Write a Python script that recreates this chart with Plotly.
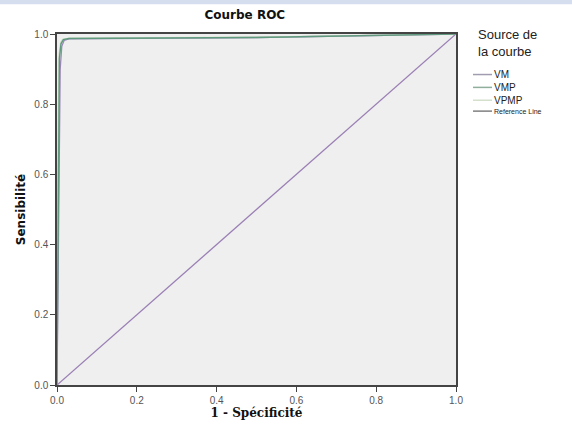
import plotly.graph_objects as go

# ROC coordinates (1 - specificity, sensitivity) per test variable
fpr_vm = [0.0, 0.004, 0.008, 0.012, 0.018, 0.03, 0.5, 1.0]
tpr_vm = [0.0, 0.55, 0.90, 0.965, 0.982, 0.986, 0.99, 1.0]
fpr_vmp = [0.0, 0.003, 0.006, 0.010, 0.016, 0.03, 0.5, 1.0]
tpr_vmp = [0.0, 0.60, 0.93, 0.972, 0.984, 0.987, 0.99, 1.0]
fpr_vpmp = [0.0, 0.002, 0.005, 0.009, 0.014, 0.03, 0.5, 1.0]
tpr_vpmp = [0.0, 0.62, 0.94, 0.975, 0.985, 0.988, 0.991, 1.0]
ref_x = [0.0, 1.0]
ref_y = [0.0, 1.0]

series = [
    ("VM", fpr_vm, tpr_vm, "#9c86b8", 1.3),
    ("VMP", fpr_vmp, tpr_vmp, "#5f9a7e", 1.4),
    ("VPMP", fpr_vpmp, tpr_vpmp, "#c9dcc0", 1.2),
    ("Reference Line", ref_x, ref_y, "#9a7fb4", 1.3),
]

fig = go.Figure()
for name, xs, ys, col, w in [series[3], series[0], series[2], series[1]]:
    fig.add_trace(go.Scatter(x=xs, y=ys, mode="lines", name=name,
                             line=dict(color=col, width=w), showlegend=False))

tick_font = dict(family="Liberation Sans", size=10, color="#555555")
axis_common = dict(range=[0, 1], dtick=0.2, tickformat=".1f", showgrid=False,
                   zeroline=False, showline=True, linecolor="#444444", linewidth=1.5,
                   mirror=True, ticks="outside", ticklen=5, tickcolor="#444444",
                   tickfont=tick_font)

fig.update_layout(
    width=572, height=430,
    margin=dict(l=57, r=116, t=34, b=41),
    paper_bgcolor="white", plot_bgcolor="#efefef",
    title=dict(text="<b>Courbe ROC</b>", x=0.428, xanchor="center", y=0.975, yanchor="top",
               font=dict(family="DejaVu Sans", size=12, color="#111111")),
    xaxis=dict(**axis_common,
               title=dict(text="<b>1 - Spécificité</b>", standoff=4,
                          font=dict(family="DejaVu Serif", size=12, color="#111111"))),
    yaxis=dict(**axis_common,
               title=dict(text="<b>Sensibilité</b>", standoff=6,
                          font=dict(family="DejaVu Sans", size=12, color="#111111"))),
)

# top banner strip
fig.add_shape(type="rect", xref="paper", yref="paper", x0=-0.2, x1=1.5,
              y0=(430 - 41 - 4) / 355, y1=1.2,
              fillcolor="#d5deee", line=dict(width=0), layer="below")

# legend drawn beside the plot area
def px_y(py):
    return (430 - 41 - py) / 355.0

def px_x(px):
    return (px - 57) / 399.0

fig.add_annotation(text="Source de<br>la courbe", xref="paper", yref="paper",
                   x=px_x(476), y=px_y(25), xanchor="left", yanchor="top",
                   align="left", showarrow=False,
                   font=dict(family="Liberation Sans", size=13, color="#222222"))

# the three test variables share one text block (10px font, 13px line pitch)
main_names = ["VM", "VMP", "VPMP"]
row_y = [75, 88, 101]
fig.add_annotation(text="<br>".join(main_names), xref="paper", yref="paper",
                   x=px_x(492), y=px_y(88), xanchor="left", yanchor="middle",
                   align="left", showarrow=False,
                   font=dict(family="Liberation Sans", size=10, color="#222222"))
fig.add_annotation(text="Reference Line", xref="paper", yref="paper",
                   x=px_x(492), y=px_y(112), xanchor="left", yanchor="middle",
                   align="left", showarrow=False,
                   font=dict(family="Liberation Sans", size=7, color="#222222"))

swatch = {"VM": "#a29cb0", "VMP": "#8fae9c", "VPMP": "#d4dfcc", "Reference Line": "#808080"}
for name, py in zip(main_names + ["Reference Line"], row_y + [112]):
    fig.add_shape(type="line", xref="paper", yref="paper",
                  x0=px_x(473), x1=px_x(492), y0=px_y(py), y1=px_y(py),
                  line=dict(color=swatch[name], width=1.5))

fig.write_html("out.html")
